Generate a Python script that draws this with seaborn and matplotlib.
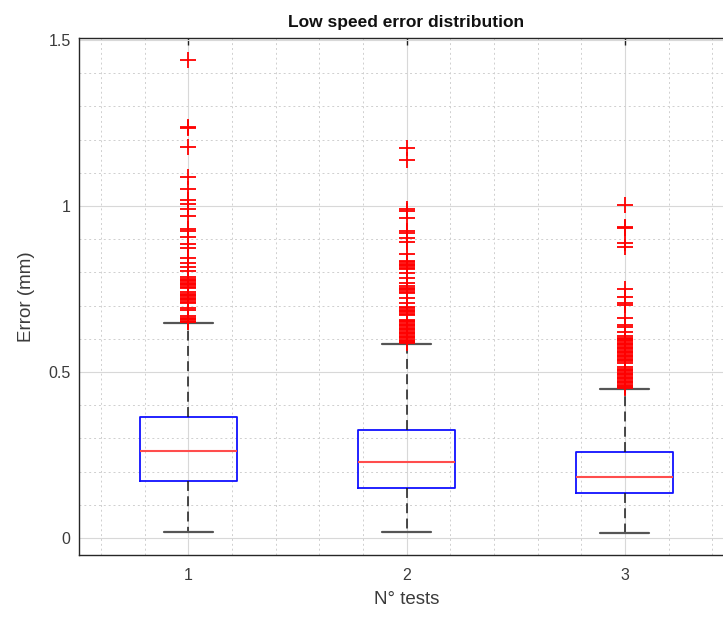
import numpy as np
import pandas as pd
import matplotlib
matplotlib.use("Agg")
import matplotlib.pyplot as plt
from matplotlib.ticker import FixedLocator, MultipleLocator
import seaborn as sns

# Per-test summary statistics of the error (mm)
tests = [1, 2, 3]
tick_labels = ["1", "2", "3"]
whisker_low = [0.018, 0.018, 0.015]
q1 = [0.172, 0.151, 0.136]
median = [0.262, 0.229, 0.184]
q3 = [0.364, 0.325, 0.259]
whisker_high = [0.648, 0.584, 0.449]

# Outlying errors per test
outliers_1 = [1.440, 1.238, 1.234, 1.179, 1.088, 1.051, 1.018, 1.005, 0.991, 0.970,
              0.931, 0.925, 0.907, 0.886, 0.873, 0.843, 0.828, 0.816, 0.804,
              0.785, 0.781, 0.777, 0.773, 0.769, 0.765, 0.761, 0.757, 0.753,
              0.740, 0.736, 0.732, 0.728, 0.724, 0.720, 0.716, 0.712, 0.708,
              0.694, 0.688, 0.668, 0.664, 0.660, 0.656, 0.652, 0.650]
outliers_2 = [1.174, 1.139, 0.990, 0.985, 0.963, 0.926, 0.920, 0.903, 0.893, 0.855,
              0.834, 0.830, 0.826, 0.822, 0.818, 0.814, 0.810, 0.797, 0.782,
              0.767, 0.758, 0.754, 0.750, 0.746, 0.742, 0.738, 0.722, 0.709,
              0.696, 0.692, 0.688, 0.684, 0.680, 0.676, 0.672,
              0.658, 0.654, 0.650, 0.646, 0.642, 0.638, 0.634, 0.630, 0.626,
              0.622, 0.618, 0.614, 0.610, 0.606, 0.602, 0.598, 0.594, 0.590, 0.587]
outliers_3 = [1.003, 0.938, 0.934, 0.888, 0.876, 0.750, 0.725, 0.708, 0.702,
              0.662, 0.642, 0.636, 0.621, 0.608, 0.604, 0.600, 0.596, 0.592,
              0.588, 0.584, 0.580, 0.576, 0.572, 0.568, 0.564, 0.560, 0.556,
              0.552, 0.548, 0.544, 0.540, 0.536, 0.532, 0.528,
              0.514, 0.510, 0.506, 0.502, 0.498, 0.494, 0.490, 0.486, 0.482,
              0.478, 0.474, 0.470, 0.466, 0.462, 0.458, 0.454, 0.451]

sns.set_theme(style="white")
plt.rcParams["font.family"] = ["Liberation Sans", "DejaVu Sans"]
plt.rcParams["xtick.direction"] = "in"
plt.rcParams["ytick.direction"] = "in"

text_color = "#3b3b3b"

fig = plt.figure(figsize=(7.23, 6.19), dpi=100)
ax = fig.add_axes([79 / 723, 64 / 619, 655 / 723, 517 / 619])

stats = []
for i in range(len(tests)):
    stats.append(dict(med=median[i], q1=q1[i], q3=q3[i],
                      whislo=whisker_low[i], whishi=whisker_high[i],
                      fliers=[], label=tick_labels[i]))

ax.bxp(stats, positions=tests, widths=0.445, capwidths=0.223, showfliers=False,
       patch_artist=False,
       boxprops=dict(color="#1010ff", linewidth=1.3),
       medianprops=dict(color="#ff4d4d", linewidth=1.5),
       whiskerprops=dict(color="#1a1a1a", linewidth=1.1, linestyle=(0, (6.5, 3.5))),
       capprops=dict(color="#555555", linewidth=1.6),
       manage_ticks=False)

flier_df = pd.DataFrame({
    "test": [1] * len(outliers_1) + [2] * len(outliers_2) + [3] * len(outliers_3),
    "error": outliers_1 + outliers_2 + outliers_3,
})
sns.scatterplot(data=flier_df, x="test", y="error", marker="+", color="red",
                s=135, linewidth=1.3, ax=ax, zorder=3, legend=False)

ax.set_xlim(0.5, 3.5)
ax.set_ylim(-0.051, 1.506)
ax.xaxis.set_major_locator(FixedLocator(tests))
ax.set_xticklabels(tick_labels)
ax.yaxis.set_major_locator(FixedLocator([0, 0.5, 1.0, 1.5]))
ax.set_yticklabels(["0", "0.5", "1", "1.5"])
ax.xaxis.set_minor_locator(MultipleLocator(0.2))
ax.yaxis.set_minor_locator(MultipleLocator(0.1))

ax.grid(True, which="major", color="#d8d8d8", linewidth=0.8, linestyle="-")
ax.grid(True, which="minor", color="#cfcfcf", linewidth=0.7, linestyle=(0, (2, 3)))
ax.set_axisbelow(True)

ax.tick_params(axis="both", which="major", labelsize=11.5, colors="#222222",
               labelcolor=text_color, length=5, width=1.0, top=True, right=True)
ax.tick_params(axis="both", which="minor", length=0)
ax.tick_params(axis="x", pad=9)
ax.tick_params(axis="y", pad=6)

for side in ["left", "bottom", "top", "right"]:
    ax.spines[side].set_color("#262626")
    ax.spines[side].set_linewidth(1.0)

ax.set_xlabel("N° tests", fontsize=13.5, color=text_color, labelpad=6)
ax.set_ylabel("Error (mm)", fontsize=13.5, color=text_color, labelpad=10)
ax.set_title("Low speed error distribution", fontsize=12.5, fontweight="bold",
             color="#111111", pad=8)

fig.savefig("out.png", dpi=100)
